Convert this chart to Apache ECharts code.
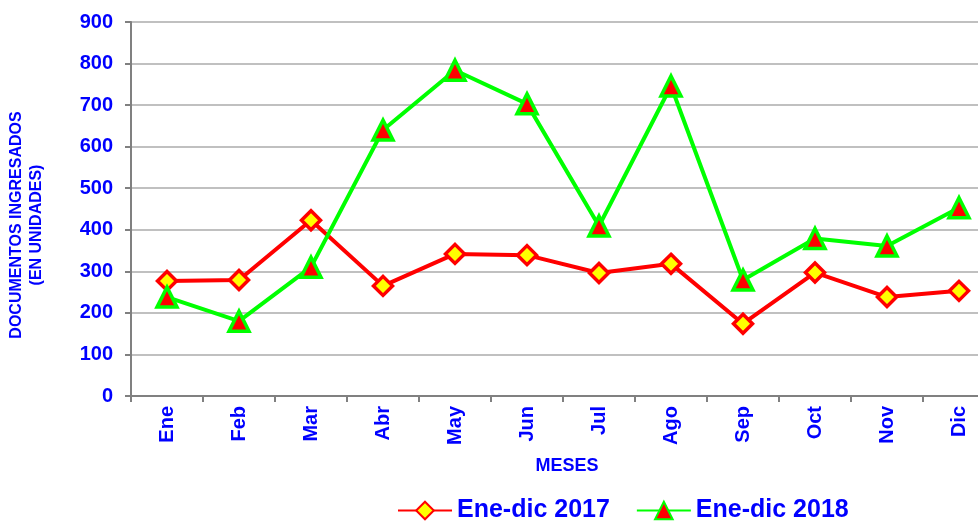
<!DOCTYPE html>
<html>
<head>
<meta charset="utf-8">
<script src="https://cdn.jsdelivr.net/npm/echarts@6/dist/echarts.min.js"></script>
<style>
  html, body { margin: 0; padding: 0; background: #fff; }
  #chart { width: 978px; height: 525px; }
</style>
</head>
<body>
<div id="chart"></div>
<script>
var meses = ['Ene', 'Feb', 'Mar', 'Abr', 'May', 'Jun', 'Jul', 'Ago', 'Sep', 'Oct', 'Nov', 'Dic'];
var datos2017 = [277, 279, 423, 265, 342, 339, 296, 318, 174, 297, 238, 253];
var datos2018 = [238, 180, 310, 640, 784, 703, 409, 746, 279, 379, 361, 453];

var azul = '#0000ff';
var fuente = 'Liberation Sans';
var myChart = echarts.init(document.getElementById('chart'));
var option = {
    animation: false,
    grid: {
        left: 131,
        width: 864,
        top: 22,
        bottom: 129,
        outerBoundsMode: 'none',
        containLabel: false
    },
    legend: {
        bottom: -3,
        left: 392,
        itemGap: 26,
        itemWidth: 54,
        itemHeight: 22,
        textStyle: { color: azul, fontSize: 25, fontWeight: 'bold', fontFamily: fuente },
        data: ['Ene-dic 2017', 'Ene-dic 2018']
    },
    xAxis: {
        type: 'category',
        data: meses,
        name: 'MESES',
        nameLocation: 'middle',
        nameGap: 61,
        nameTextStyle: { color: azul, fontSize: 18, fontWeight: 'bold', fontFamily: fuente, padding: [0, 0, 0, 8] },
        axisLine: { lineStyle: { color: '#808080', width: 2 } },
        axisTick: { show: true, length: 6, lineStyle: { color: '#808080', width: 2 } },
        axisLabel: { rotate: 90, color: azul, fontSize: 20, fontWeight: 'bold', fontFamily: fuente, margin: 10 }
    },
    yAxis: {
        type: 'value',
        min: 0,
        max: 900,
        interval: 100,
        name: 'DOCUMENTOS INGRESADOS\n(EN UNIDADES)',
        nameLocation: 'middle',
        nameRotate: 90,
        nameGap: 84,
        nameTextStyle: { color: azul, fontSize: 16, fontWeight: 'bold', fontFamily: fuente, lineHeight: 20, padding: [0, 32, 0, 0] },
        axisLine: { show: true, lineStyle: { color: '#808080', width: 2 } },
        axisTick: { show: true, length: 6, lineStyle: { color: '#808080', width: 2 } },
        axisLabel: { color: azul, fontSize: 20, fontWeight: 'bold', fontFamily: fuente, margin: 18 },
        splitLine: { lineStyle: { color: '#c0c0c0', width: 2 } }
    },
    series: [
        {
            name: 'Ene-dic 2017',
            type: 'line',
            data: datos2017,
            symbol: 'diamond',
            symbolSize: 19,
            lineStyle: { color: '#ff0000', width: 4 },
            itemStyle: { color: '#ffff00', borderColor: '#ff0000', borderWidth: 3.5 }
        },
        {
            name: 'Ene-dic 2018',
            type: 'line',
            data: datos2018,
            symbol: 'triangle',
            symbolSize: 20,
            lineStyle: { color: '#00ff00', width: 4 },
            itemStyle: { color: '#ff0000', borderColor: '#00ff00', borderWidth: 3.5 }
        }
    ]
};
myChart.setOption(option, true);
</script>
</body>
</html>
